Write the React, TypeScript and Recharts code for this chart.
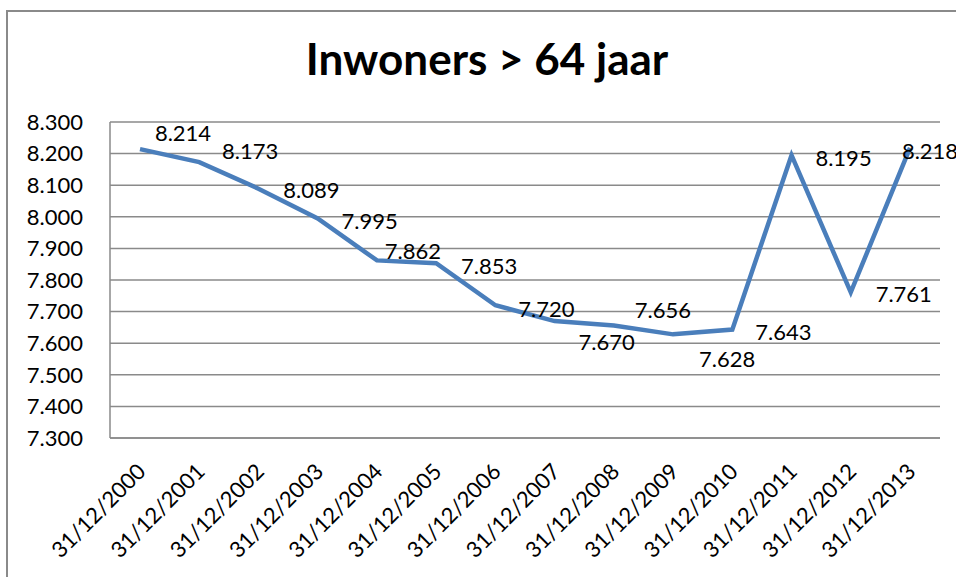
import { LineChart, Line, XAxis, YAxis, CartesianGrid, LabelList } from 'recharts';

const dates = [
  '31/12/2000', '31/12/2001', '31/12/2002', '31/12/2003', '31/12/2004',
  '31/12/2005', '31/12/2006', '31/12/2007', '31/12/2008', '31/12/2009',
  '31/12/2010', '31/12/2011', '31/12/2012', '31/12/2013',
];
const inwoners = [8214, 8173, 8089, 7995, 7862, 7853, 7720, 7670, 7656, 7628, 7643, 8195, 7761, 8218];
const yTicks = [7300, 7400, 7500, 7600, 7700, 7800, 7900, 8000, 8100, 8200, 8300];

// where each value label sits relative to its point (the original had a few dragged by hand)
const labelShift = [
  [43, -17], [51, -12], [53, 1], [52, 2], [36, -10], [53, 2], [51, 3],
  [52, 20], [49, -16], [54, 24], [51, 2], [52, 2], [53, 1], [20, 3],
];

const FONT = 'Lato, "Liberation Sans", sans-serif';

const fmt = (v: number) => `${Math.floor(v / 1000)}.${String(v % 1000).padStart(3, '0')}`;

const data = dates.map((d, i) => ({ date: d, inwoners: inwoners[i] }));

function XTick({ x, y, payload }: any) {
  const ax = x + 7;
  const ay = y + 33;
  return (
    <text
      x={ax}
      y={ay}
      textAnchor="end"
      transform={`rotate(-45, ${ax}, ${ay})`}
      fontSize={22}
      fontFamily={FONT}
      fill="#000"
    >
      {payload.value}
    </text>
  );
}

function ValueLabel({ x, y, value, index }: any) {
  const [dx, dy] = labelShift[index] || [52, 2];
  return (
    <text
      x={x + dx}
      y={y + dy}
      textAnchor="middle"
      dominantBaseline="central"
      fontSize={22}
      fontFamily={FONT}
      fill="#000"
    >
      {fmt(value)}
    </text>
  );
}

export default function App() {
  return (
    <div
      style={{
        position: 'absolute',
        left: 0,
        top: 0,
        width: 956,
        height: 577,
        overflow: 'hidden',
        background: '#fff',
      }}
    >
      <div
        style={{
          position: 'absolute',
          left: 6,
          top: 10,
          width: 1000,
          height: 700,
          border: '2px solid #8a8a8a',
        }}
      />
      <div
        style={{
          position: 'absolute',
          left: 0,
          top: 36,
          width: 974,
          textAlign: 'center',
          fontFamily: FONT,
          fontWeight: 'bold',
          fontSize: 44,
          lineHeight: '44px',
          color: '#000',
        }}
      >
        Inwoners &gt; 64 jaar
      </div>
      <div style={{ position: 'absolute', left: 0, top: 0 }}>
        <LineChart
          width={956}
          height={577}
          data={data}
          margin={{ top: 122, right: 16, left: 0, bottom: 0 }}
        >
          <CartesianGrid vertical={false} stroke="#8a8a8a" strokeWidth={1.5} />
          <XAxis
            dataKey="date"
            height={139}
            interval={0}
            padding={{ left: 30, right: 30 }}
            tickLine={false}
            tickSize={0}
            axisLine={{ stroke: '#8a8a8a', strokeWidth: 1.5 }}
            tick={<XTick />}
          />
          <YAxis
            width={110}
            domain={[7300, 8300]}
            ticks={yTicks}
            interval={0}
            tickLine={false}
            tickSize={0}
            tickMargin={27}
            axisLine={{ stroke: '#8a8a8a', strokeWidth: 1.5 }}
            tickFormatter={fmt}
            tick={{ fontSize: 22, fontFamily: FONT, fill: '#000' }}
          />
          <Line
            dataKey="inwoners"
            stroke="#4a7ebb"
            strokeWidth={4.5}
            dot={false}
            activeDot={false}
            isAnimationActive={false}
          >
            <LabelList dataKey="inwoners" content={<ValueLabel />} />
          </Line>
        </LineChart>
      </div>
    </div>
  );
}
